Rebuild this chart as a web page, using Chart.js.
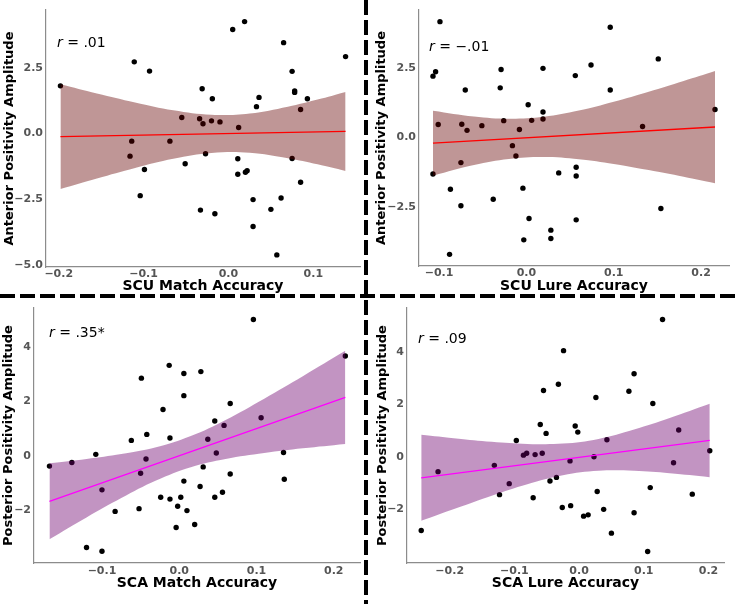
<!DOCTYPE html>
<html>
<head>
<meta charset="utf-8">
<script src="https://cdn.jsdelivr.net/npm/chart.js@4.4.1/dist/chart.umd.min.js"></script>
<style>
  html, body { margin: 0; padding: 0; background: #fff; }
  #wrap { position: relative; width: 736px; height: 604px; overflow: hidden; }
  #wrap canvas { position: absolute; }
  #dividers { position: absolute; left: 0; top: 0; }
</style>
</head>
<body>
<div id="wrap">
  <canvas id="scu-match" width="366" height="296" style="left:0;top:0"></canvas>
  <canvas id="scu-lure" width="370" height="296" style="left:366px;top:0"></canvas>
  <canvas id="sca-match" width="366" height="308" style="left:0;top:296px"></canvas>
  <canvas id="sca-lure" width="370" height="308" style="left:366px;top:296px"></canvas>
  <svg id="dividers" width="736" height="604">
    <line x1="0" y1="296" x2="736" y2="296" stroke="#000" stroke-width="4" stroke-dasharray="15 5"/>
    <line x1="366" y1="0" x2="366" y2="604" stroke="#000" stroke-width="4" stroke-dasharray="15 5"/>
  </svg>
</div>
<script>
// SCU match accuracy vs anterior positivity
const scuMatchAcc = [-0.198, -0.111, -0.093, -0.114, -0.116, -0.099, -0.104, -0.069, -0.055, -0.051, -0.034, -0.031, -0.030, -0.027, -0.033, -0.020, -0.019, -0.016, -0.010, 0.005, 0.019, 0.012, 0.011, 0.011, 0.020, 0.022, 0.033, 0.036, 0.029, 0.029, 0.050, 0.062, 0.057, 0.065, 0.075, 0.078, 0.078, 0.075, 0.085, 0.093, 0.085, 0.138]
const scuMatchAmp = [1.81, 2.72, 2.37, -0.29, -0.86, -1.37, -2.36, -0.29, 0.61, -1.15, 0.56, 1.70, 0.37, -0.77, -2.91, 0.48, 1.32, -3.05, 0.44, 3.95, 4.25, 0.23, -0.96, -1.55, -1.47, -1.41, 1.02, 1.37, -2.51, -3.53, -2.88, -2.45, -4.61, 3.45, 2.36, 1.62, 1.56, -0.95, 0.91, 1.32, -1.85, 2.92]
const scuMatchFitX = [-0.198, 0.138]
const scuMatchFitY = [-0.12, 0.08]
const scuMatchBandX = [-0.198, -0.155, -0.11, -0.065, -0.02, 0.025, 0.07, 0.105, 0.138]
const scuMatchBandHigh = [1.87, 1.52, 1.18, 0.88, 0.71, 0.76, 1.02, 1.29, 1.58]
const scuMatchBandLow = [-2.11, -1.71, -1.31, -0.96, -0.74, -0.73, -0.94, -1.17, -1.42]

// SCU lure accuracy vs anterior positivity
const scuLureAcc = [-0.099, -0.107, -0.104, -0.101, -0.107, -0.070, -0.074, -0.068, -0.075, -0.087, -0.075, -0.088, -0.051, -0.029, -0.030, -0.026, -0.016, -0.012, -0.008, -0.038, -0.004, 0.002, 0.006, 0.003, -0.003, 0.019, 0.019, 0.019, 0.028, 0.028, 0.037, 0.056, 0.057, 0.057, 0.057, 0.074, 0.096, 0.096, 0.133, 0.151, 0.154, 0.216]
const scuLureAmp = [4.17, 2.21, 2.37, 0.47, -1.31, 1.71, 0.48, 0.26, -0.90, -1.86, -2.45, -4.20, 0.43, 2.45, 1.79, 0.61, -0.29, -0.66, 0.29, -2.22, -1.82, 1.18, 0.62, -2.91, -3.68, 2.49, 0.92, 0.67, -3.33, -3.63, -1.27, 2.23, -1.07, -1.38, -2.96, 2.61, 3.97, 1.71, 0.40, 2.83, -2.55, 1.01]
const scuLureFitX = [-0.107, 0.216]
const scuLureFitY = [-0.20, 0.38]
const scuLureBandX = [-0.107, -0.06, -0.02, 0.02, 0.06, 0.10, 0.14, 0.18, 0.216]
const scuLureBandHigh = [0.97, 0.76, 0.68, 0.75, 0.97, 1.29, 1.65, 2.04, 2.40]
const scuLureBandLow = [-1.37, -0.99, -0.77, -0.70, -0.78, -0.95, -1.17, -1.41, -1.64]

// SCA match accuracy vs posterior positivity
const scaMatchAcc = [-0.168, -0.139, -0.108, -0.100, -0.120, -0.100, -0.083, -0.062, -0.052, -0.050, -0.049, -0.043, -0.042, -0.024, -0.021, -0.013, -0.012, -0.012, -0.004, -0.002, 0.002, 0.006, 0.006, 0.006, 0.010, 0.020, 0.027, 0.028, 0.031, 0.037, 0.046, 0.046, 0.048, 0.056, 0.058, 0.066, 0.066, 0.096, 0.106, 0.135, 0.136, 0.215]
const scaMatchAmp = [-0.37, -0.24, 0.06, -1.24, -3.35, -3.49, -2.03, 0.57, -1.93, -0.63, 2.85, -0.11, 0.79, -1.51, 1.70, 3.32, 0.66, -1.58, -2.62, -1.84, -1.51, -0.92, 3.02, 2.21, -2.00, -2.51, -1.12, 3.09, -0.40, 0.61, -1.51, 1.28, 0.11, -1.33, 1.12, 1.92, -0.66, 5.00, 1.40, 0.13, -0.85, 3.66]
const scaMatchFitX = [-0.168, 0.215]
const scaMatchFitY = [-1.66, 2.15]
const scaMatchBandX = [-0.168, -0.12, -0.075, -0.03, 0.015, 0.06, 0.11, 0.16, 0.215]
const scaMatchBandHigh = [-0.27, -0.11, 0.07, 0.32, 0.73, 1.32, 2.10, 2.92, 3.85]
const scaMatchBandLow = [-3.05, -2.25, -1.54, -0.90, -0.41, -0.11, 0.11, 0.28, 0.44]

// SCA lure accuracy vs posterior positivity
const scaLureAcc = [-0.244, -0.218, -0.131, -0.123, -0.108, -0.097, -0.086, -0.081, -0.071, -0.068, -0.060, -0.057, -0.055, -0.051, -0.045, -0.035, -0.032, -0.026, -0.024, -0.014, -0.013, -0.006, -0.002, 0.007, 0.014, 0.023, 0.026, 0.028, 0.038, 0.043, 0.050, 0.077, 0.085, 0.085, 0.106, 0.110, 0.114, 0.129, 0.146, 0.154, 0.175, 0.202]
const scaLureAmp = [-2.82, -0.57, -0.33, -1.45, -1.03, 0.62, 0.06, 0.13, -1.57, 0.08, 1.23, 0.13, 2.53, 0.89, -0.93, -0.79, 2.77, -1.94, 4.05, -0.16, -1.87, 1.17, 0.94, -2.27, -2.22, 0.00, 2.26, -1.33, -2.01, 0.65, -2.92, 2.50, 3.17, -2.14, -3.62, -1.18, 2.03, 5.24, -0.23, 1.02, -1.43, 0.23]
const scaLureFitX = [-0.244, 0.202]
const scaLureFitY = [-0.81, 0.62]
const scaLureBandX = [-0.244, -0.19, -0.135, -0.08, -0.025, 0.03, 0.085, 0.14, 0.202]
const scaLureBandHigh = [0.84, 0.70, 0.57, 0.49, 0.50, 0.68, 1.04, 1.48, 2.02]
const scaLureBandLow = [-2.45, -1.97, -1.49, -1.05, -0.71, -0.54, -0.54, -0.63, -0.78]

// axis ticks
const scuMatchXTicks = [-0.2, -0.1, 0, 0.1]
const scuMatchXLabels = ['−0.2', '−0.1', '0.0', '0.1']
const scuMatchYTicks = [-5, -2.5, 0, 2.5]
const scuMatchYLabels = ['−5.0', '−2.5', '0.0', '2.5']
const scuLureXTicks = [-0.1, 0, 0.1, 0.2]
const scuLureXLabels = ['−0.1', '0.0', '0.1', '0.2']
const scuLureYTicks = [-2.5, 0, 2.5]
const scuLureYLabels = ['−2.5', '0.0', '2.5']
const scaMatchXTicks = [-0.1, 0, 0.1, 0.2]
const scaMatchXLabels = ['−0.1', '0.0', '0.1', '0.2']
const scaLureXTicks = [-0.2, -0.1, 0, 0.1, 0.2]
const scaLureXLabels = ['−0.2', '−0.1', '0.0', '0.1', '0.2']
const posteriorYTicks = [-2, 0, 2, 4]
const posteriorYLabels = ['−2', '0', '2', '4']

Chart.defaults.font.family = '"DejaVu Sans", sans-serif'

const toPoints = (xs, ys) => xs.map((x, i) => ({ x: x, y: ys[i] }))

// r value in the top left corner, r in italics
const rLabel = {
  id: 'rLabel',
  afterDraw (chart, args, opts) {
    const { ctx, chartArea } = chart
    ctx.save()
    ctx.fillStyle = '#000'
    ctx.textBaseline = 'alphabetic'
    let x = chartArea.left + opts.dx
    const y = chartArea.top + opts.dy
    ctx.font = 'italic 14px "DejaVu Sans"'
    ctx.fillText('r', x, y)
    x += ctx.measureText('r').width
    ctx.font = '14px "DejaVu Sans"'
    ctx.fillText(opts.text, x, y)
    ctx.restore()
  }
}

function makePanel (id, p) {
  const tickFont = { size: 11, weight: 'bold' }
  const border = { display: true, color: '#8c8c8c', width: 1.2 }

  new Chart(document.getElementById(id), {
    type: 'scatter',
    data: {
      datasets: [
        {
          data: toPoints(p.acc, p.amp),
          pointRadius: 2.7,
          pointBackgroundColor: '#000',
          pointBorderWidth: 0,
          order: 3
        },
        {
          type: 'line',
          data: toPoints(p.bandX, p.bandHigh),
          borderWidth: 0,
          borderColor: 'transparent',
          pointRadius: 0,
          tension: 0.4,
          fill: false,
          order: 2
        },
        {
          type: 'line',
          data: toPoints(p.bandX, p.bandLow),
          borderWidth: 0,
          borderColor: 'transparent',
          backgroundColor: p.bandColor,
          pointRadius: 0,
          tension: 0.4,
          fill: '-1',
          order: 2
        },
        {
          type: 'line',
          data: toPoints(p.fitX, p.fitY),
          borderColor: p.lineColor,
          borderWidth: 1.3,
          pointRadius: 0,
          fill: false,
          order: 1
        }
      ]
    },
    options: {
      responsive: false,
      animation: false,
      layout: { padding: { left: 0, top: p.top, right: p.right, bottom: 0 } },
      plugins: {
        legend: { display: false },
        tooltip: { enabled: false },
        rLabel: { text: p.rText, dx: p.rDx, dy: p.rDy }
      },
      scales: {
        x: {
          type: 'linear',
          min: p.xMin,
          max: p.xMax,
          afterBuildTicks: (s) => { s.ticks = p.xTicks.map(v => ({ value: v })) },
          afterFit: (s) => { s.height = p.xHeight },
          grid: { display: false, drawTicks: false },
          border: border,
          ticks: { padding: p.xTickPad, color: '#555', font: tickFont, autoSkip: false, maxRotation: 0, callback: (v, i) => p.xLabels[i] },
          title: { display: true, text: p.xTitle, color: '#000', font: { size: 14, weight: 'bold' }, padding: { top: 0, bottom: p.xTitlePad } }
        },
        y: {
          type: 'linear',
          min: p.yMin,
          max: p.yMax,
          afterBuildTicks: (s) => { s.ticks = p.yTicks.map(v => ({ value: v })) },
          afterFit: (s) => { s.width = p.yWidth },
          grid: { display: false, drawTicks: false },
          border: border,
          ticks: { padding: 3, color: '#555', font: tickFont, autoSkip: false, callback: (v, i) => p.yLabels[i] },
          title: { display: true, text: p.yTitle, color: '#000', font: { size: 13, weight: 'bold' }, padding: { top: p.yTitlePad, bottom: 0 } }
        }
      }
    },
    plugins: [rLabel]
  })
}

const brownBand = 'rgba(100, 0, 0, 0.41)'
const purpleBand = 'rgba(110, 0, 110, 0.42)'

makePanel('scu-match', {
  acc: scuMatchAcc, amp: scuMatchAmp,
  fitX: scuMatchFitX, fitY: scuMatchFitY,
  bandX: scuMatchBandX, bandHigh: scuMatchBandHigh, bandLow: scuMatchBandLow,
  bandColor: brownBand, lineColor: '#ff0000',
  xMin: -0.215, xMax: 0.155, yMin: -5.07, yMax: 4.69,
  xTicks: scuMatchXTicks, xLabels: scuMatchXLabels, yTicks: scuMatchYTicks, yLabels: scuMatchYLabels,
  xTitle: 'SCU Match Accuracy', yTitle: 'Anterior Positivity Amplitude',
  top: 10, right: 6, yWidth: 46, xHeight: 29, xTickPad: 1, xTitlePad: 1.1, yTitlePad: 2.2,
  rText: ' = .01', rDx: 11, rDy: 37
})

makePanel('scu-lure', {
  acc: scuLureAcc, amp: scuLureAmp,
  fitX: scuLureFitX, fitY: scuLureFitY,
  bandX: scuLureBandX, bandHigh: scuLureBandHigh, bandLow: scuLureBandLow,
  bandColor: brownBand, lineColor: '#ff0000',
  xMin: -0.123, xMax: 0.232, yMin: -4.62, yMax: 4.59,
  xTicks: scuLureXTicks, xLabels: scuLureXLabels, yTicks: scuLureYTicks, yLabels: scuLureYLabels,
  xTitle: 'SCU Lure Accuracy', yTitle: 'Anterior Positivity Amplitude',
  top: 10, right: 7, yWidth: 53, xHeight: 30, xTickPad: 1, xTitlePad: 1.6, yTitlePad: 7.7,
  rText: ' = −.01', rDx: 10, rDy: 40.5
})

makePanel('sca-match', {
  acc: scaMatchAcc, amp: scaMatchAmp,
  fitX: scaMatchFitX, fitY: scaMatchFitY,
  bandX: scaMatchBandX, bandHigh: scaMatchBandHigh, bandLow: scaMatchBandLow,
  bandColor: purpleBand, lineColor: '#ff00ff',
  xMin: -0.188, xMax: 0.234, yMin: -3.92, yMax: 5.42,
  xTicks: scaMatchXTicks, xLabels: scaMatchXLabels, yTicks: posteriorYTicks, yLabels: posteriorYLabels,
  xTitle: 'SCA Match Accuracy', yTitle: 'Posterior Positivity Amplitude',
  top: 12, right: 6, yWidth: 34, xHeight: 41, xTickPad: 2, xTitlePad: 12.1, yTitlePad: 0.9,
  rText: ' = .35*', rDx: 15, rDy: 29
})

makePanel('sca-lure', {
  acc: scaLureAcc, amp: scaLureAmp,
  fitX: scaLureFitX, fitY: scaLureFitY,
  bandX: scaLureBandX, bandHigh: scaLureBandHigh, bandLow: scaLureBandLow,
  bandColor: purpleBand, lineColor: '#ff00ff',
  xMin: -0.266, xMax: 0.224, yMin: -4.06, yMax: 5.68,
  xTicks: scaLureXTicks, xLabels: scaLureXLabels, yTicks: posteriorYTicks, yLabels: posteriorYLabels,
  xTitle: 'SCA Lure Accuracy', yTitle: 'Posterior Positivity Amplitude',
  top: 12, right: 12, yWidth: 41, xHeight: 41, xTickPad: 2, xTitlePad: 12.6, yTitlePad: 9.2,
  rText: ' = .09', rDx: 11, rDy: 35
})
</script>
</body>
</html>
